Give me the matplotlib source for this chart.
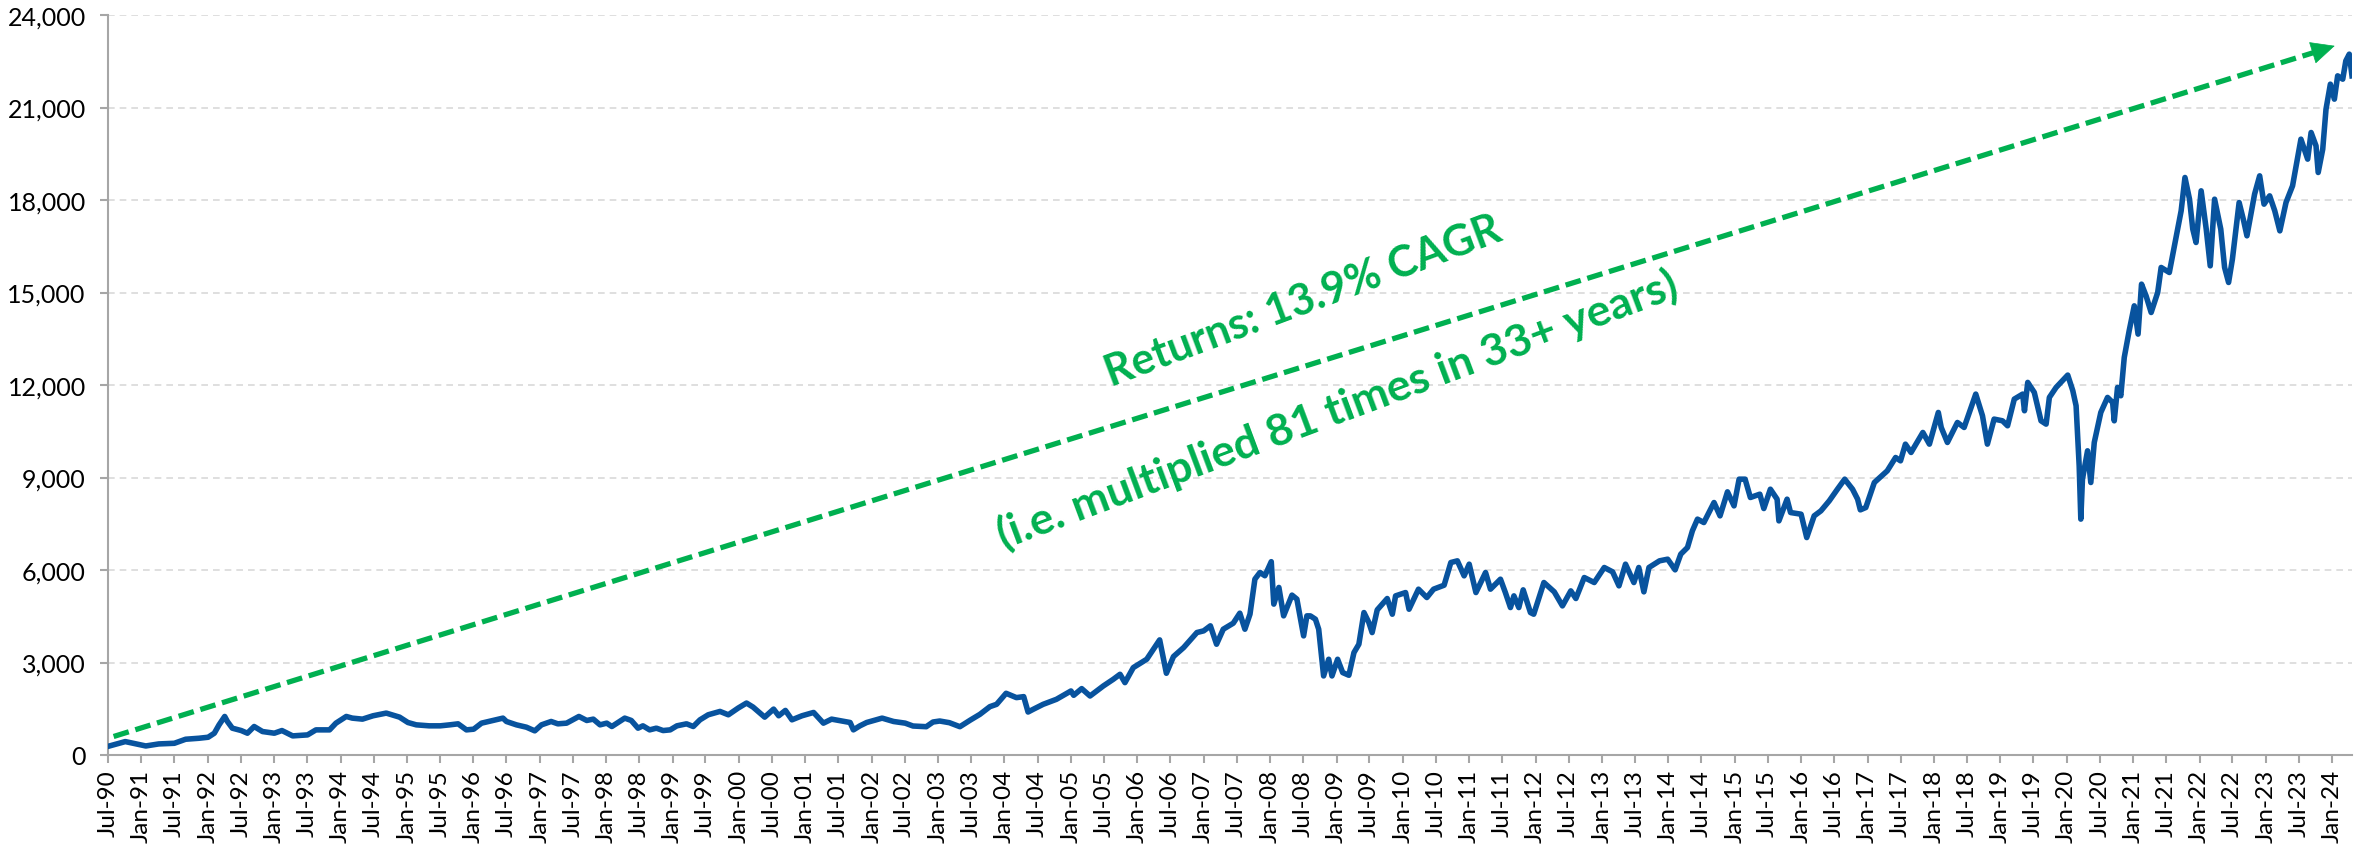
import matplotlib
matplotlib.use("Agg")
import matplotlib.pyplot as plt
import matplotlib.dates as mdates
from matplotlib.ticker import FuncFormatter
import pandas as pd

plt.rcParams["font.family"] = ["Lato", "DejaVu Sans"]

# --- index level (1990-2002) ---
dates_90s = [
    "1990-07-01", "1990-10-04", "1991-01-01", "1991-01-25", "1991-04-06", "1991-07-01",
    "1991-09-01", "1991-11-13", "1992-01-03", "1992-02-06", "1992-03-03", "1992-04-03",
    "1992-04-18", "1992-05-15", "1992-07-03", "1992-08-06", "1992-09-12", "1992-10-28",
    "1993-01-01", "1993-02-12", "1993-04-12", "1993-07-03", "1993-08-18", "1993-11-01",
    "1993-12-06", "1994-02-01", "1994-03-06", "1994-05-01", "1994-06-28", "1994-09-09",
    "1994-11-21", "1995-01-06", "1995-02-21", "1995-05-03", "1995-07-03", "1995-08-24",
    "1995-10-09", "1995-11-24", "1996-01-03", "1996-02-15", "1996-04-18", "1996-06-12",
    "1996-07-01", "1996-08-25", "1996-10-19", "1996-12-04", "1997-01-10", "1997-03-04",
    "1997-04-10", "1997-05-28", "1997-08-04", "1997-09-16", "1997-10-22", "1997-11-28",
    "1998-01-04", "1998-02-01", "1998-04-13", "1998-05-19", "1998-06-25", "1998-07-22",
    "1998-08-28", "1998-10-04", "1998-11-10", "1998-12-19", "1999-01-25", "1999-03-19",
    "1999-04-25", "1999-06-01", "1999-07-16", "1999-09-19", "1999-11-04", "1999-12-28",
    "2000-02-12", "2000-03-19", "2000-05-22", "2000-07-10", "2000-08-07", "2000-09-13",
    "2000-10-19", "2000-12-13", "2001-02-15", "2001-04-10", "2001-05-25", "2001-09-04",
    "2001-09-22", "2001-10-28", "2001-12-04", "2002-02-27", "2002-05-01", "2002-07-04",
]
values_90s = [
    280, 435, 326, 293, 359, 380,
    511, 543, 576, 707, 978, 1250,
    1087, 870, 793, 707, 924, 761,
    707, 793, 620, 652, 815, 815,
    1033, 1250, 1196, 1163, 1272, 1359,
    1228, 1054, 978, 946, 946, 978,
    1011, 815, 837, 1033, 1120, 1196,
    1087, 978, 902, 783, 978, 1087,
    1011, 1033, 1250, 1120, 1163, 978,
    1033, 924, 1196, 1120, 870, 946,
    815, 870, 793, 815, 946, 1011,
    924, 1141, 1304, 1413, 1304, 1522,
    1685, 1554, 1228, 1489, 1272, 1446,
    1141, 1272, 1380, 1033, 1163, 1054,
    815, 946, 1054, 1196, 1087, 1033,
]

# --- 2002-2014 ---
dates_00s = [
    "2002-08-16", "2002-10-28", "2002-12-04", "2003-01-10", "2003-03-04", "2003-05-01",
    "2003-06-28", "2003-08-19", "2003-10-13", "2003-11-19", "2004-01-10", "2004-03-07",
    "2004-04-16", "2004-05-10", "2004-06-07", "2004-08-01", "2004-10-13", "2005-01-01",
    "2005-01-16", "2005-03-01", "2005-04-16", "2005-06-28", "2005-08-22", "2005-09-28",
    "2005-10-25", "2005-12-10", "2006-02-22", "2006-05-04", "2006-06-10", "2006-07-19",
    "2006-09-13", "2006-11-25", "2007-01-01", "2007-02-07", "2007-03-13", "2007-04-19",
    "2007-06-13", "2007-07-19", "2007-08-16", "2007-09-13", "2007-10-10", "2007-11-07",
    "2007-12-04", "2008-01-08", "2008-01-22", "2008-02-19", "2008-03-16", "2008-05-01",
    "2008-05-28", "2008-07-04", "2008-07-22", "2008-08-10", "2008-09-07", "2008-09-25",
    "2008-10-22", "2008-11-19", "2008-12-07", "2009-01-07", "2009-02-04", "2009-03-10",
    "2009-04-07", "2009-05-04", "2009-06-01", "2009-06-28", "2009-07-16", "2009-08-13",
    "2009-10-07", "2009-11-04", "2009-11-22", "2010-01-16", "2010-02-04", "2010-03-28",
    "2010-05-13", "2010-06-19", "2010-08-16", "2010-09-22", "2010-10-28", "2010-12-04",
    "2011-01-01", "2011-02-07", "2011-04-01", "2011-04-28", "2011-06-22", "2011-07-19",
    "2011-08-16", "2011-09-04", "2011-10-01", "2011-10-25", "2011-12-04", "2011-12-22",
    "2012-02-16", "2012-04-13", "2012-05-28", "2012-07-13", "2012-08-10", "2012-09-25",
    "2012-11-19", "2013-01-13", "2013-02-28", "2013-04-04", "2013-05-10", "2013-06-25",
    "2013-07-22", "2013-08-19", "2013-09-16", "2013-11-13", "2013-12-28", "2014-02-07",
    "2014-03-10", "2014-04-16", "2014-05-13", "2014-06-10",
]
values_00s = [
    940, 918, 1070, 1102, 1048, 918,
    1135, 1319, 1568, 1644, 2001, 1861,
    1893, 1394, 1481, 1644, 1806, 2077,
    1936, 2153, 1914, 2239, 2456, 2618,
    2347, 2835, 3106, 3734, 2651, 3193,
    3485, 3972, 4026, 4189, 3593, 4080,
    4275, 4600, 4080, 4568, 5704, 5921,
    5813, 6270, 4893, 5434, 4513, 5185,
    5055, 3863, 4513, 4512, 4404, 4079,
    2564, 3105, 2564, 3105, 2673, 2586,
    3322, 3592, 4620, 4296, 3971, 4707,
    5075, 4566, 5161, 5269, 4728, 5378,
    5107, 5378, 5507, 6243, 6297, 5810,
    6189, 5269, 5918, 5378, 5702, 5269,
    4782, 5161, 4782, 5356, 4620, 4566,
    5594, 5291, 4836, 5323, 5075, 5756,
    5594, 6081, 5940, 5486, 6189, 5594,
    6081, 5291, 6081, 6297, 6351, 6005,
    6514, 6730, 7271, 7650,
]

# --- 2014-2024 ---
dates_10s = [
    "2014-07-15", "2014-09-09", "2014-10-12", "2014-11-22", "2014-12-28", "2015-01-25",
    "2015-02-27", "2015-03-28", "2015-05-19", "2015-06-10", "2015-07-16", "2015-08-22",
    "2015-09-01", "2015-10-16", "2015-11-04", "2016-01-01", "2016-02-01", "2016-03-13",
    "2016-04-19", "2016-06-04", "2016-07-19", "2016-08-28", "2016-10-10", "2016-11-07",
    "2016-11-22", "2016-12-22", "2017-02-07", "2017-04-19", "2017-06-04", "2017-07-01",
    "2017-07-28", "2017-08-28", "2017-11-01", "2017-12-07", "2018-01-25", "2018-02-10",
    "2018-03-16", "2018-05-10", "2018-06-16", "2018-08-19", "2018-09-25", "2018-10-22",
    "2018-11-28", "2019-01-13", "2019-02-10", "2019-03-19", "2019-05-04", "2019-05-14",
    "2019-06-01", "2019-07-07", "2019-08-13", "2019-09-10", "2019-09-28", "2019-11-04",
    "2020-01-07", "2020-02-04", "2020-02-22", "2020-03-10", "2020-03-19", "2020-03-28",
    "2020-04-25", "2020-05-13", "2020-06-01", "2020-07-07", "2020-08-13", "2020-09-10",
    "2020-09-19", "2020-10-07", "2020-10-25", "2020-11-13", "2020-12-10", "2021-01-07",
    "2021-01-28", "2021-02-16", "2021-03-13", "2021-04-10", "2021-05-16", "2021-06-04",
    "2021-07-19", "2021-08-16", "2021-09-22", "2021-10-13", "2021-11-07", "2021-11-25",
    "2021-12-13", "2022-01-10", "2022-02-07", "2022-03-01", "2022-03-25", "2022-04-28",
    "2022-05-19", "2022-06-10", "2022-07-01", "2022-08-07", "2022-09-01", "2022-09-19",
    "2022-10-31", "2022-11-28", "2022-12-22", "2023-01-22", "2023-02-19", "2023-03-19",
    "2023-04-22", "2023-05-28", "2023-07-13", "2023-08-19", "2023-09-07", "2023-10-04",
    "2023-10-16", "2023-11-10", "2023-11-28", "2023-12-22", "2024-01-13", "2024-01-31",
    "2024-02-28", "2024-03-16", "2024-04-04", "2024-04-19",
]
values_10s = [
    7539, 8189, 7756, 8535, 8080, 8946,
    8946, 8351, 8459, 7994, 8621, 8297,
    7593, 8297, 7864, 7810, 7052, 7756,
    7918, 8243, 8621, 8946, 8621, 8297,
    7950, 8026, 8838, 9216, 9649, 9541,
    10082, 9812, 10461, 10082, 11110, 10623,
    10136, 10785, 10623, 11705, 11002, 10082,
    10894, 10839, 10677, 11543, 11705, 11164,
    12084, 11759, 10839, 10731, 11597, 11921,
    12322, 11813, 11326, 9379, 7650, 8946,
    9866, 8838, 10136, 11110, 11597, 11435,
    10839, 11921, 11651, 12893, 13758, 14568,
    13650, 15271, 14892, 14352, 15001, 15812,
    15649, 16514, 17649, 18730, 18027, 17054,
    16622, 18298, 17054, 15865, 18027, 17054,
    15812, 15325, 16081, 17919, 17325, 16838,
    18189, 18784, 17865, 18135, 17649, 16999,
    17919, 18460, 19973, 19325, 20189, 19757,
    18892, 19649, 20946, 21757, 21270, 22027,
    21919, 22513, 22730, 22027,
]

y_ticks = [0, 3000, 6000, 9000, 12000, 15000, 18000, 21000, 24000]
label_1 = "Returns: 13.9% CAGR"
label_2 = "(i.e. multiplied 81 times in 33+ years)"
arrow_from = ("1990-08-01", 600)
arrow_to = ("2024-01-15", 23000)

BLUE = "#08539E"
GREEN = "#00B050"

dates = pd.to_datetime(dates_90s + dates_00s + dates_10s)
values = values_90s + values_00s + values_10s

fig = plt.figure(figsize=(23.62, 8.45), dpi=100)
ax = fig.add_axes([108 / 2362, 1 - 756 / 845, 2244 / 2362, 740 / 845])

ax.plot(dates, values, color=BLUE, lw=4, solid_joinstyle="round", zorder=3)

# dashed trend arrow (dashed shaft + solid head)
x0, x1 = pd.Timestamp(arrow_from[0]), pd.Timestamp(arrow_to[0])
ax.plot([x0, x1 - pd.Timedelta(days=40)], [arrow_from[1], arrow_to[1] - 80],
        color=GREEN, lw=3.8, dashes=(3.0, 1.3), zorder=4)
ax.annotate("", xy=(x1, arrow_to[1]), xytext=(x1 - pd.Timedelta(days=60), arrow_to[1] - 110),
            arrowprops=dict(arrowstyle="-|>,head_length=0.8,head_width=0.38",
                            color=GREEN, lw=0.5, mutation_scale=20,
                            shrinkA=0, shrinkB=0), zorder=5)

ax.text(0.5325, 0.615, label_1, transform=ax.transAxes, rotation=20.5,
        rotation_mode="anchor", ha="center", va="center", color=GREEN,
        fontsize=31, fontweight="bold")
ax.text(0.548, 0.4676, label_2, transform=ax.transAxes, rotation=20.5,
        rotation_mode="anchor", ha="center", va="center", color=GREEN,
        fontsize=32, fontweight="bold")

ax.set_ylim(0, 24000)
ax.set_yticks(y_ticks)
ax.yaxis.set_major_formatter(FuncFormatter(lambda v, _: f"{v:,.0f}"))
ax.set_xlim(pd.Timestamp("1990-07-01"), pd.Timestamp("2024-04-19"))
ax.xaxis.set_major_locator(mdates.MonthLocator(bymonth=[1, 7]))
ax.xaxis.set_major_formatter(mdates.DateFormatter("%b-%y"))

ax.grid(axis="y", color="#D9D9D9", lw=1.2, dashes=(4, 3))
ax.set_axisbelow(True)
for s in ["top", "right"]:
    ax.spines[s].set_visible(False)
for s in ["left", "bottom"]:
    ax.spines[s].set_color("#A6A6A6")
    ax.spines[s].set_linewidth(1.5)
ax.tick_params(axis="both", colors="#A6A6A6", width=1.5, length=6, labelcolor="black")
ax.tick_params(axis="y", labelsize=18, pad=10)
ax.tick_params(axis="x", labelsize=17.5, rotation=90, pad=4)

fig.savefig("out.png", dpi=100)
